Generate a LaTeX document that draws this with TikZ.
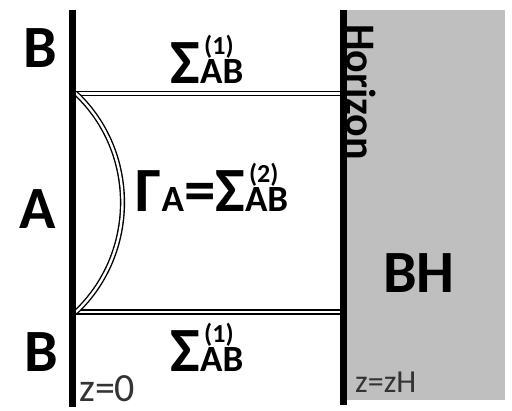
\documentclass[tikz,border=0pt]{standalone}
\usepackage{fontspec}
\setmainfont{Carlito}
\colorlet{bhcolor}{black!25}
\colorlet{zcolor}{black!80}
\newcommand{\supfont}{\fontsize{26}{26}\selectfont}
\newcommand{\subfont}{\fontsize{37}{37}\selectfont}
% Sigma with sub and superscript
\newcommand{\sigAB}[1]{Σ\rlap{\kern4pt\raisebox{29pt}{\supfont(#1)}}{\subfont AB}}
\tikzset{
    % --- styles ---
    wall/.style={line width=7pt},
    surface/.style={double, double distance=2.4pt, line width=1.4pt},
    bigletter/.style={font=\fontsize{60}{60}\selectfont\bfseries, inner sep=0pt},
    sigmalabel/.style={font=\fontsize{63}{63}\selectfont\bfseries, inner sep=0pt, anchor=base},
    zlabel/.style={text=zcolor, inner sep=0pt, anchor=base west}
}
\begin{document}
\begin{tikzpicture}[x=1pt, y=-1pt]
    \useasboundingbox (0,0) rectangle (512,411);

    % black hole region
    \fill[bhcolor] (345,10) rectangle (505,400);

    \coordinate (bdrytop) at (72,10);
    \coordinate (bdrybot) at (72,407);
    \coordinate (hortop) at (343,10);
    \coordinate (horbot) at (343,405);

    \coordinate (ltop) at (76,93.5);
    \coordinate (rtop) at (343,93.5);
    \coordinate (lbot) at (76,312);
    \coordinate (rbot) at (343,312);

    % surfaces
    \draw[surface] (ltop) -- (rtop);
    \draw[surface] (lbot) -- (rbot);
    \draw[surface] (ltop) .. controls (138,152) and (138,253) .. (lbot);

    % boundary and horizon
    \draw[wall] (bdrytop) -- (bdrybot);
    \draw[wall] (hortop) -- (horbot);

    \node[bigletter, anchor=base] (Btop) at (40,68) {B};
    \node[bigletter, anchor=base] (Aregion) at (38,229) {A};
    \node[bigletter, anchor=base] (Bbot) at (41,372) {B};
    \node[bigletter, anchor=base] (BH) at (419,293) {BH};

    \node[sigmalabel] (sigtop) at (207,84) {\sigAB{1}};
    \node[sigmalabel] (sigbot) at (207,372) {\sigAB{1}};
    \node[sigmalabel] (gamma) at (212,212) {Γ{\subfont A}=\sigAB{2}};

    \node[font=\fontsize{42}{42}\selectfont\bfseries, rotate=-90, inner sep=0pt]
        (horizon) at (361,92) {Horizon};

    \node[zlabel, font=\fontsize{40}{40}\selectfont] (zzero) at (79,402) {z=0};
    \node[zlabel, font=\fontsize{32}{32}\selectfont] (zhor) at (355,393) {z=zH};
\end{tikzpicture}
\end{document}
